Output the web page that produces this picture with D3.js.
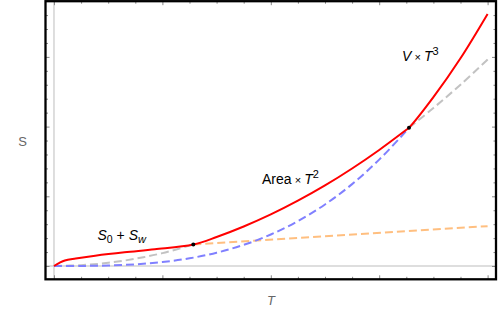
<!DOCTYPE html>
<html><head><meta charset="utf-8">
<script src="https://cdn.jsdelivr.net/npm/d3@7"></script>
<style>body{margin:0;background:#fff}svg{display:block;font-family:"Liberation Sans",Arial,sans-serif}</style>
</head><body>
<script>
// ---- data ----
const redT   = [0, 0.05, 0.1, 0.2, 0.38, 0.65, 0.93, 1.285, 1.5, 1.75, 2.0, 2.25, 2.5, 2.75, 3.0, 3.25, 3.275, 3.5, 3.75, 4.0];
const redS   = [0, 0.045, 0.08, 0.108, 0.148, 0.197, 0.24, 0.308, 0.416, 0.567, 0.74, 0.937, 1.156, 1.399, 1.665, 1.954, 1.984, 2.422, 2.98, 3.616];
const grayLowT = [0, 0.25, 0.5, 0.75, 1.0, 1.285];
const grayLowS = [0, 0.012, 0.046, 0.104, 0.185, 0.308];
const grayHighT = [3.275, 3.5, 3.75, 4.01];
const grayHighS = [1.984, 2.266, 2.602, 2.975];
const blueT  = [0, 0.25, 0.5, 0.75, 1.0, 1.25, 1.5, 1.75, 2.0, 2.25, 2.5, 2.75, 3.0, 3.25, 3.275];
const blueS  = [0, 0.0009, 0.007, 0.024, 0.0565, 0.11, 0.191, 0.303, 0.452, 0.644, 0.883, 1.175, 1.526, 1.939, 1.984];
const orangeT = [1.285, 4.0];
const orangeS = [0.308, 0.572];
const dotT = [1.285, 3.275];
const dotS = [0.308, 1.984];
const xMajor = [0, 1, 2, 3, 4];
const yMajor = [0, 1, 2, 3];

const W = 498, H = 320;
const L = 45.5, R = 496, Tp = 1.2, B = 279.3;
const svg = d3.select("body").append("svg").attr("width", W).attr("height", H);

const x = d3.scaleLinear().domain([-0.0784, 4.0775]).range([L, R]);
const y = d3.scaleLinear().domain([-0.1908, 3.799]).range([B, Tp]);

// zero axes
svg.append("line").attr("x1", x(0)).attr("x2", x(0)).attr("y1", Tp).attr("y2", B)
  .attr("stroke", "#bdbdbd").attr("stroke-width", 1);
svg.append("line").attr("x1", L).attr("x2", R).attr("y1", y(0)).attr("y2", y(0))
  .attr("stroke", "#bdbdbd").attr("stroke-width", 1);

const line = d3.line().x(d => x(d[0])).y(d => y(d[1])).curve(d3.curveCatmullRom.alpha(0.5));
const zip = (a, b) => a.map((v, i) => [v, b[i]]);

const dashed = (T, S, col) => svg.append("path").datum(zip(T, S)).attr("d", line)
  .attr("fill", "none").attr("stroke", col).attr("stroke-width", 2)
  .attr("stroke-dasharray", "8,4");

dashed(grayLowT, grayLowS, "#c2c2c2");
dashed(grayHighT, grayHighS, "#c2c2c2");
dashed(orangeT, orangeS, "#ffbf80");
dashed(blueT, blueS, "#8080ff");

svg.append("path").datum(zip(redT, redS)).attr("d", line)
  .attr("fill", "none").attr("stroke", "#ff0000").attr("stroke-width", 2);

svg.selectAll("circle.dot").data(zip(dotT, dotS)).enter().append("circle")
  .attr("cx", d => x(d[0])).attr("cy", d => y(d[1])).attr("r", 2).attr("fill", "#000");

// frame ticks via axes
const tickCol = "#888";
function styleAxis(g) {
  g.select(".domain").remove();
  g.selectAll("text").remove();
  g.selectAll("line").attr("stroke", tickCol);
}
const xMinor = d3.range(0, 4.01, 0.25).filter(v => !xMajor.includes(v));
const yMinor = d3.range(-0.2, 3.8, 0.2).map(v => Math.round(v * 10) / 10).filter(v => !yMajor.includes(v) && v >= -0.19);
[[d3.axisTop, B, 4, xMajor], [d3.axisTop, B, 2.5, xMinor], [d3.axisBottom, Tp, 4, xMajor], [d3.axisBottom, Tp, 2.5, xMinor]]
  .forEach(([ax, pos, len, vals]) => {
    svg.append("g").attr("transform", `translate(0,${pos})`)
      .call(ax(x).tickValues(vals).tickSize(len)).call(styleAxis);
  });
[[d3.axisRight, L, 4, yMajor], [d3.axisRight, L, 2.5, yMinor], [d3.axisLeft, R, 4, yMajor], [d3.axisLeft, R, 2.5, yMinor]]
  .forEach(([ax, pos, len, vals]) => {
    svg.append("g").attr("transform", `translate(${pos},0)`)
      .call(ax(y).tickValues(vals).tickSize(len)).call(styleAxis);
  });

// frame
svg.append("rect").attr("x", L).attr("y", Tp).attr("width", R - L).attr("height", B - Tp)
  .attr("fill", "none").attr("stroke", "#000").attr("stroke-width", 2.3);

// axis labels
svg.append("text").attr("x", 22.5).attr("y", 146).attr("text-anchor", "middle")
  .attr("font-size", 13).attr("fill", "#666").text("S");
svg.append("text").attr("x", 271).attr("y", 305).attr("text-anchor", "middle")
  .attr("font-size", 13).attr("font-style", "italic").attr("fill", "#666").text("T");

// annotations
const fs = 14;
function label(xp, yp, parts) {
  const t = svg.append("text").attr("x", xp).attr("y", yp).attr("font-size", fs).attr("fill", "#000");
  parts.forEach(p => {
    const s = t.append("tspan").text(p.t);
    if (p.i) s.attr("font-style", "italic");
    if (p.sz) s.attr("font-size", p.sz);
    if (p.dy) s.attr("dy", p.dy);
  });
}
label(97.5, 240, [
  {t: "S", i: 1}, {t: "0", sz: 10.5, dy: 3}, {t: " + ", dy: -3}, {t: "S", i: 1}, {t: "w", i: 1, sz: 11, dy: 3}
]);
label(262, 183.5, [
  {t: "Area"}, {t: " × ", sz: 11}, {t: "T", i: 1}, {t: "2", sz: 11, dy: -6}
]);
label(402, 61, [
  {t: "V", i: 1}, {t: " × ", sz: 11}, {t: "T", i: 1}, {t: "3", sz: 11, dy: -6}
]);
</script>
</body></html>
